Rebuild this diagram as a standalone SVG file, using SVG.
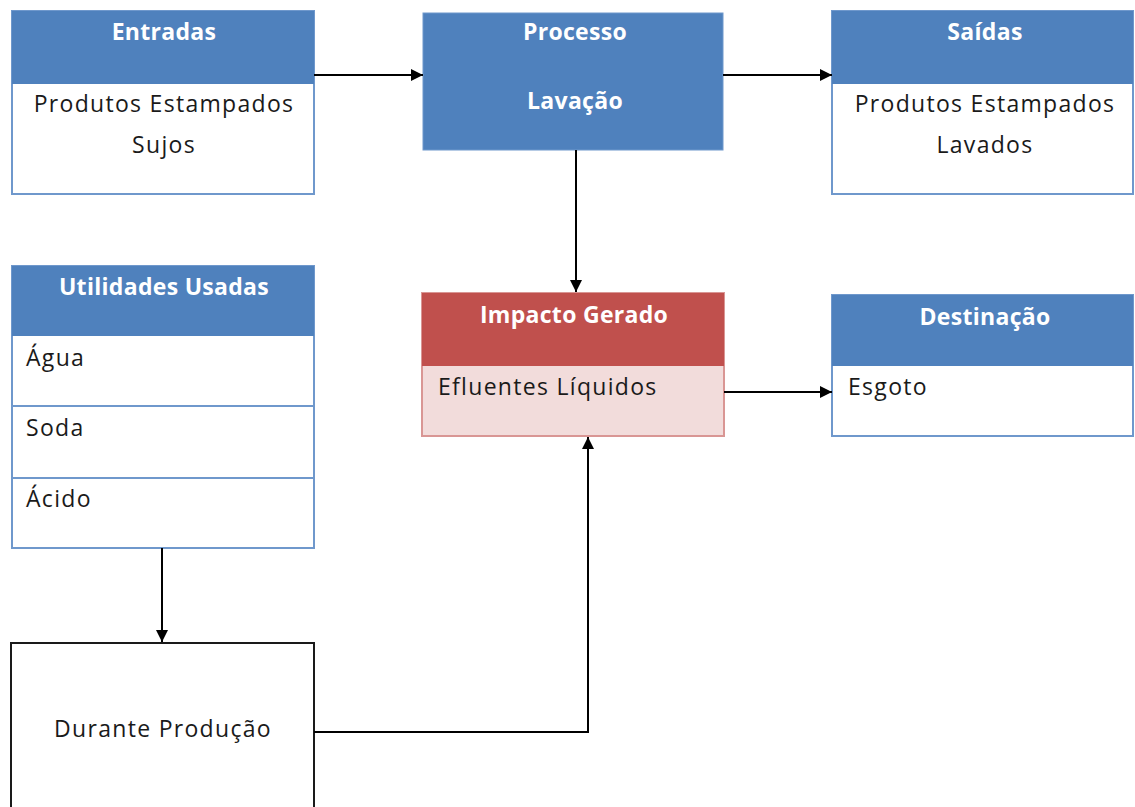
<svg xmlns="http://www.w3.org/2000/svg" width="1135" height="807" viewBox="0 0 1135 807">
  <style>
    .hdr { fill: #4F81BD; }
    .box { fill: #FFFFFF; stroke: #6F98CC; stroke-width: 2; }
    .div { stroke: #6F98CC; stroke-width: 2; }
    .ht { font-family: "Open Sans", "Noto Sans", sans-serif; font-size: 23px; font-weight: bold; letter-spacing: 0.3px; fill: #FFFFFF; text-anchor: middle; }
    .bt { font-family: "Open Sans", "Noto Sans", sans-serif; font-size: 23px; letter-spacing: 1.3px; fill: #1A1A1A; }
    .c { text-anchor: middle; }
    .conn { fill: none; stroke: #000000; stroke-width: 2; marker-end: url(#arr); }
  </style>
  <defs>
    <marker id="arr" viewBox="0 0 10 10" refX="10" refY="5" markerWidth="12" markerHeight="12" orient="auto" markerUnits="userSpaceOnUse">
      <path d="M0,0 L10,5 L0,10 z" fill="#000000"/>
    </marker>
  </defs>
  <rect width="1135" height="807" fill="#FFFFFF"/>

  <g id="entradas">
    <rect class="box" x="12" y="11" width="302" height="183"/>
    <rect class="hdr" x="12" y="11" width="302" height="73"/>
    <text class="ht" x="164" y="40">Entradas</text>
    <text class="bt c" x="164" y="112">Produtos Estampados</text>
    <text class="bt c" x="164" y="153">Sujos</text>
  </g>

  <g id="processo">
    <rect x="423" y="13" width="300" height="137" fill="#4F81BD" stroke="#6F98CC" stroke-width="1"/>
    <text class="ht" x="575" y="40">Processo</text>
    <text class="ht" x="575" y="109">Lavação</text>
  </g>

  <g id="saidas">
    <rect class="box" x="832" y="11" width="301" height="183"/>
    <rect class="hdr" x="832" y="11" width="301" height="73"/>
    <text class="ht" x="985" y="40">Saídas</text>
    <text class="bt c" x="985" y="112">Produtos Estampados</text>
    <text class="bt c" x="985" y="153">Lavados</text>
  </g>

  <g id="utilidades">
    <rect class="box" x="12" y="266" width="302" height="282"/>
    <rect class="hdr" x="12" y="266" width="302" height="70"/>
    <line class="div" x1="12" y1="406" x2="314" y2="406"/>
    <line class="div" x1="12" y1="478" x2="314" y2="478"/>
    <text class="ht" x="164" y="295">Utilidades Usadas</text>
    <text class="bt" x="26" y="366">Água</text>
    <text class="bt" x="26" y="436">Soda</text>
    <text class="bt" x="26" y="507">Ácido</text>
  </g>

  <g id="impacto">
    <rect x="422" y="293" width="302" height="143" fill="#F2DCDB" stroke="#D99694" stroke-width="2"/>
    <rect x="422" y="293" width="302" height="73" fill="#C0504D"/>
    <text class="ht" x="574" y="323">Impacto Gerado</text>
    <text class="bt" x="438" y="395">Efluentes Líquidos</text>
  </g>

  <g id="destinacao">
    <rect class="box" x="832" y="295" width="301" height="141"/>
    <rect class="hdr" x="832" y="295" width="301" height="71"/>
    <text class="ht" x="985" y="325">Destinação</text>
    <text class="bt" x="848" y="395">Esgoto</text>
  </g>

  <g id="producao">
    <rect x="11" y="643" width="303" height="180" fill="#FFFFFF" stroke="#1A1A1A" stroke-width="2"/>
    <text class="bt c" x="163" y="737">Durante Produção</text>
  </g>

  <g id="connectors">
    <line class="conn" x1="314" y1="75" x2="423" y2="75"/>
    <line class="conn" x1="723" y1="75" x2="832" y2="75"/>
    <line class="conn" x1="576" y1="150" x2="576" y2="292"/>
    <line class="conn" x1="724" y1="392" x2="832" y2="392"/>
    <line class="conn" x1="162" y1="548" x2="162" y2="642"/>
    <polyline class="conn" points="314,732 588,732 588,437"/>
  </g>
</svg>
